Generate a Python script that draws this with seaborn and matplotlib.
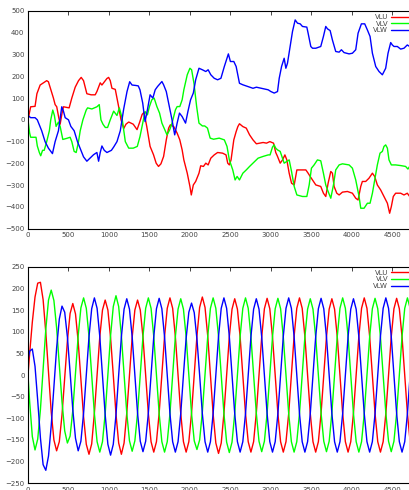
import numpy as np
import pandas as pd
import matplotlib
matplotlib.use("Agg")
import matplotlib.pyplot as plt
import seaborn as sns

names = ["VLU", "VLV", "VLW"]
colors = ["#ff0000", "#00ff00", "#0000ff"]

# --- upper panel: slow drifting voltages ---
vlu_x = [0, 33, 87, 110, 150, 190, 231, 252, 273, 314, 335, 355, 380, 397, 420, 438, 508, 541, 583,
         624, 657, 686, 727, 780, 830, 851, 892, 913, 975, 996, 1016, 1037, 1078, 1099, 1120, 1149,
         1182, 1210, 1244, 1300, 1347, 1380, 1410, 1433, 1467, 1508, 1550, 1583, 1612, 1642, 1675,
         1708, 1737, 1758, 1800, 1842, 1875, 1904, 1925, 1967, 2000, 2017, 2042, 2071, 2112, 2133,
         2167, 2196, 2225, 2258, 2300, 2342, 2404, 2446, 2467, 2487, 2508, 2542, 2571, 2592, 2612,
         2654, 2696, 2737, 2779, 2821, 2862, 2904, 2946, 2987, 3033, 3060, 3082, 3115, 3144, 3173,
         3197, 3226, 3255, 3288, 3321, 3370, 3432, 3460, 3485, 3514, 3555, 3616, 3649, 3678, 3707,
         3740, 3760, 3781, 3814, 3843, 3884, 3945, 4007, 4048, 4077, 4110, 4130, 4171, 4212, 4254,
         4282, 4315, 4356, 4397, 4439, 4467, 4488, 4512, 4541, 4603, 4644, 4685, 4714, 4740]
vlu_y = [0, 60, 62, 120, 160, 170, 180, 175, 150, 100, 70, 60, 10, -20, 30, 60, 55, 100, 150,
         180, 195, 180, 120, 115, 115, 130, 170, 160, 190, 195, 180, 145, 140, 100, 60, 0,
         -40, -20, -10, -20, -45, -10, 25, 34, -31, -122, -160, -199, -214, -202, -168,
         -92, -38, -23, -31, -61, -92, -138, -184, -245, -306, -345, -299, -283, -245, -211,
         -214, -199, -207, -176, -161, -150, -153, -161, -199, -207, -184, -92, -54, -31, -18,
         -31, -38, -69, -92, -110, -107, -104, -107, -100, -107, -150, -168, -199, -184, -161,
         -184, -245, -291, -299, -230, -230, -230, -245, -260, -276, -299, -306, -337, -352, -291,
         -237, -245, -306, -337, -345, -332, -329, -337, -360, -368, -306, -283, -283, -268, -245,
         -260, -299, -322, -352, -383, -429, -398, -352, -337, -337, -345, -337, -352, -345]

vlv_x = [0, 20, 33, 99, 115, 140, 157, 180, 200, 231, 264, 281, 306, 326, 347, 376, 397, 430, 479,
         520, 541, 570, 595, 624, 645, 678, 719, 736, 789, 851, 880, 901, 926, 955, 983, 1016, 1058,
         1099, 1128, 1161, 1202, 1244, 1300, 1350, 1383, 1417, 1446, 1475, 1500, 1529, 1558, 1592,
         1625, 1654, 1687, 1717, 1750, 1779, 1821, 1842, 1875, 1904, 1925, 1967, 2000, 2021, 2050,
         2083, 2112, 2154, 2183, 2217, 2250, 2292, 2362, 2425, 2458, 2487, 2529, 2558, 2583, 2612,
         2654, 2696, 2737, 2800, 2842, 2904, 2967, 2990, 3020, 3040, 3060, 3082, 3115, 3164, 3197,
         3226, 3255, 3288, 3321, 3390, 3444, 3473, 3501, 3534, 3575, 3616, 3649, 3678, 3707, 3740,
         3773, 3801, 3843, 3884, 3966, 4007, 4048, 4089, 4110, 4151, 4192, 4225, 4254, 4282, 4315,
         4348, 4377, 4397, 4418, 4439, 4459, 4488, 4541, 4603, 4664, 4693, 4714, 4740]
vlv_y = [0, -60, -80, -80, -120, -150, -165, -140, -140, -100, -50, 0, 45, 20, -30, -10, -30, -90, -85,
         -80, -100, -145, -150, -100, -50, 0, 45, 55, 50, 60, 70, 0, -20, -35, -35, 0, 40,
         20, 55, 10, -100, -130, -130, -122, -77, -15, 38, 23, 61, 92, 100, 61,
         31, -15, -43, -69, -46, -15, 46, 61, 61, 92, 138, 207, 237, 230, 168,
         61, -15, -28, -28, -38, -84, -89, -84, -92, -122, -184, -230, -276, -260, -276,
         -245, -230, -214, -191, -176, -168, -161, -161, -125, -115, -130, -138, -145, -199, -191,
         -184, -237, -306, -345, -352, -352, -299, -222, -207, -184, -188, -245, -299, -329, -360,
         -299, -230, -207, -202, -207, -222, -276, -352, -406, -406, -383, -383, -337, -276, -207,
         -153, -145, -122, -115, -130, -184, -207, -207, -210, -214, -226, -214, -220]

vlw_x = [0, 33, 87, 115, 169, 211, 252, 302, 335, 376, 417, 438, 459, 500, 529, 570, 611, 686, 727,
         769, 810, 851, 872, 892, 913, 942, 975, 1030, 1058, 1099, 1140, 1182, 1223, 1256, 1285,
         1330, 1362, 1383, 1417, 1446, 1475, 1508, 1542, 1571, 1600, 1654, 1675, 1708, 1737, 1779,
         1812, 1842, 1871, 1904, 1946, 1975, 2008, 2042, 2071, 2112, 2154, 2196, 2225, 2258, 2300,
         2342, 2383, 2425, 2475, 2500, 2542, 2571, 2612, 2654, 2717, 2779, 2821, 2883, 2967, 3000,
         3041, 3082, 3103, 3132, 3164, 3185, 3205, 3238, 3267, 3300, 3329, 3362, 3390, 3444, 3460,
         3493, 3514, 3555, 3616, 3649, 3678, 3699, 3732, 3760, 3801, 3843, 3871, 3904, 3966, 4007,
         4048, 4077, 4118, 4159, 4192, 4225, 4254, 4295, 4336, 4377, 4418, 4447, 4480, 4500, 4521,
         4562, 4603, 4644, 4685, 4714, 4740]
vlw_y = [20, 10, 10, 0, -50, -100, -130, -155, -100, -50, 60, 40, 10, 0, -30, -50, -100, -170, -190,
         -175, -160, -150, -190, -150, -120, -140, -150, -140, -125, -100, -50, 50, 130, 175, 160,
         158, 156, 138, 77, -8, 46, 115, 100, 138, 153, 176, 161, 130, 77, 0,
         -69, -15, 31, 15, -15, 38, 92, 123, 184, 237, 230, 222, 230, 207, 191,
         184, 191, 245, 303, 268, 268, 245, 168, 161, 153, 145, 150, 145, 138, 130,
         123, 130, 191, 245, 283, 237, 260, 337, 406, 459, 444, 441, 429, 426, 398,
         337, 329, 329, 337, 383, 429, 418, 410, 367, 314, 311, 322, 309, 303, 306,
         322, 398, 441, 441, 413, 383, 306, 245, 222, 207, 237, 306, 355, 344, 337,
         337, 325, 329, 344, 337, 340]

# --- lower panel: three phase sine voltages, one row = one 400-sample cycle ---
sine_t = np.concatenate([[0.0], 20 + np.arange(142) * 400 / 12])
sine_vlu = [0,
    49, 122, 180, 212, 214, 174, 98, 5, -85, -150, -175, -154,
    -92, -7, 79, 142, 165, 141, 77, -10, -97, -160, -183, -159,
    -88, 0, 88, 150, 173, 150, 86, 0, -90, -157, -183, -157,
    -88, 0, 87, 150, 173, 150, 88, 0, -89, -154, -178, -154,
    -88, 0, 89, 154, 178, 154, 89, 0, -89, -154, -178, -154,
    -88, 0, 90, 156, 180, 156, 90, 0, -90, -157, -181, -157,
    -89, 0, 88, 152, 176, 152, 88, 0, -89, -154, -178, -154,
    -88, 0, 88, 153, 177, 153, 88, 0, -89, -154, -178, -154,
    -89, 0, 89, 154, 178, 154, 89, 0, -89, -154, -178, -154,
    -88, 0, 88, 152, 176, 152, 88, 0, -89, -154, -178, -154,
    -88, 0, 89, 154, 178, 154, 89, 0, -89, -154, -178, -154,
    -89, 0, 88, 153, 177, 153, 88, 0, -89, -154]
sine_vlv = [0,
    -61, -142, -173, -148, -80, 13, 106, 173, 196, 172, 109, 24,
    -62, -129, -157, -141, -82, 4, 91, 155, 178, 154, 89, 0,
    -89, -154, -178, -154, -89, 0, 91, 158, 183, 158, 91, 0,
    -88, -152, -176, -152, -88, 0, 89, 154, 178, 154, 89, 0,
    -89, -154, -178, -154, -89, 0, 88, 152, 176, 152, 88, 0,
    -89, -152, -172, -150, -86, 0, 89, 154, 178, 154, 89, 0,
    -89, -155, -179, -155, -89, 0, 89, 154, 178, 154, 89, 0,
    -88, -153, -177, -153, -88, 0, 88, 153, 177, 153, 88, 0,
    -89, -154, -178, -154, -89, 0, 88, 152, 176, 152, 88, 0,
    -88, -153, -177, -153, -88, 0, 89, 154, 178, 154, 89, 0,
    -89, -154, -178, -154, -89, 0, 88, 153, 177, 153, 88, 0,
    -88, -153, -177, -153, -88, 0, 89, 154, 178, 154]
sine_vlw = [35,
    55, 60, 20, -59, -145, -207, -220, -187, -117, -27, 62, 129,
    159, 145, 88, 6, -80, -146, -175, -153, -88, 0, 88, 153,
    178, 154, 89, 0, -92, -160, -185, -160, -92, 0, 88, 152,
    176, 152, 88, 0, -88, -153, -177, -153, -88, 0, 88, 153,
    177, 153, 88, 0, -89, -154, -178, -154, -89, 0, 85, 145,
    166, 144, 83, 0, -89, -154, -178, -154, -89, 0, 89, 154,
    178, 154, 89, 0, -89, -154, -178, -154, -89, 0, 88, 152,
    176, 152, 88, 0, -89, -154, -178, -154, -89, 0, 89, 154,
    178, 154, 89, 0, -89, -154, -178, -154, -89, 0, 88, 153,
    177, 153, 88, 0, -89, -154, -178, -154, -89, 0, 88, 152,
    176, 152, 88, 0, -89, -154, -178, -154, -89, 0, 89, 154,
    178, 154, 89, 0, -89, -154, -178, -154, -89, 0]

sns.set_style("white")
plt.rcParams["font.family"] = ["DejaVu Sans"]

fig = plt.figure(figsize=(4.09, 4.90), dpi=100)
W, H = 409.0, 490.0
# axes run past the right edge of the picture (x range 0..5000), like the original crop
ax_top = fig.add_axes([28 / W, (H - 228.7) / H, 404.8 / W, 217.7 / H])
ax_bot = fig.add_axes([28 / W, (H - 483.3) / H, 404.8 / W, 216.6 / H])

top_series = [(vlu_x, vlu_y), (vlv_x, vlv_y), (vlw_x, vlw_y)]
bot_series = [sine_vlu, sine_vlv, sine_vlw]

for name, color, (xs, ys) in zip(names, colors, top_series):
    sns.lineplot(x=xs, y=ys, color=color, label=name, ax=ax_top, lw=1.0,
                 sort=False, estimator=None)
for name, color, ys in zip(names, colors, bot_series):
    sns.lineplot(x=sine_t, y=ys, color=color, label=name, ax=ax_bot, lw=1.0,
                 sort=False, estimator=None)

for ax, ylim, step in [(ax_top, (-500, 500), 100), (ax_bot, (-250, 250), 50)]:
    ax.set_xlim(0, 5000)
    ax.set_ylim(*ylim)
    ax.set_xticks(np.arange(0, 4501, 500))
    ax.set_yticks(np.arange(ylim[0], ylim[1] + 1, step))
    ax.set_xlabel("")
    ax.set_ylabel("")
    ax.tick_params(direction="in", top=True, right=True, length=3, width=0.6,
                   labelsize=5, labelcolor="#444444", pad=2.5)
    for sp in ax.spines.values():
        sp.set_linewidth(0.8)
        sp.set_color("black")
    ax.legend(loc="upper right", bbox_to_anchor=(0.966, 0.986), markerfirst=False,
              frameon=False, fontsize=5, labelcolor="#444444", handlelength=4,
              handletextpad=0.45, labelspacing=0.1, borderaxespad=0, borderpad=0)

fig.savefig("out.png", dpi=100)
